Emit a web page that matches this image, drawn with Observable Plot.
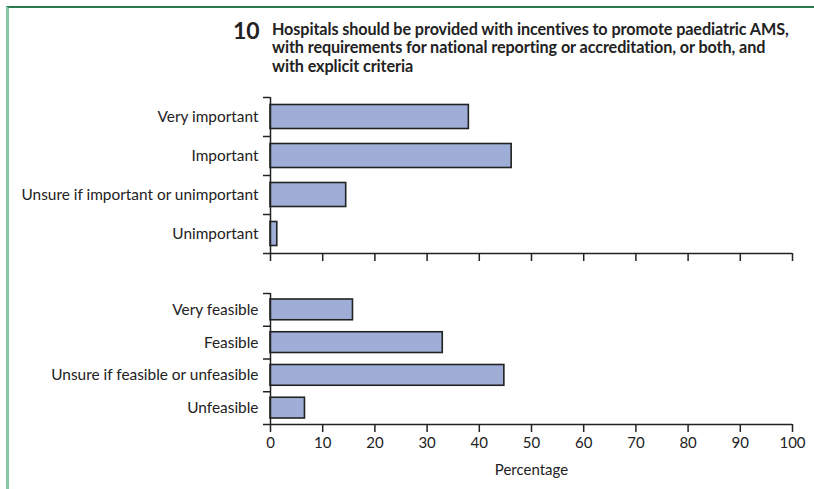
<!DOCTYPE html>
<html>
<head>
<meta charset="utf-8">
<script src="https://cdn.jsdelivr.net/npm/d3@7"></script>
<script src="https://cdn.jsdelivr.net/npm/@observablehq/plot@0.6"></script>
<style>
  html, body { margin: 0; padding: 0; background: #fff; }
  #chart { position: relative; width: 814px; height: 489px; overflow: hidden; background: #fff; font-family: Lato, "Open Sans", sans-serif; color: #222; }
  #frame { position: absolute; left: 6px; top: 6px; width: 808px; height: 483px; border-top: 2px solid #2b7a50; border-left: 3px solid #86c8a6; box-sizing: border-box; }
  #num { position: absolute; left: 233px; top: 18px; font-weight: 700; font-size: 23px; line-height: 24px; }
  #title { position: absolute; left: 272px; top: 20px; width: 540px; font-weight: 700; font-size: 16.2px; line-height: 18.3px; letter-spacing: -0.1px; }
  .panel { position: absolute; left: 0; }
</style>
</head>
<body>
<div id="chart">
  <div id="frame"></div>
  <div id="num"></div>
  <div id="title"></div>
</div>
<script>
// Survey statement and response shares (%)
const titleNumber = "10";
const titleLines = [
  "Hospitals should be provided with incentives to promote paediatric AMS,",
  "with requirements for national reporting or accreditation, or both, and",
  "with explicit criteria"
];

const importanceCategories = ["Very important", "Important", "Unsure if important or unimportant", "Unimportant"];
const importanceValues = [38.0, 46.2, 14.5, 1.3];

const feasibilityCategories = ["Very feasible", "Feasible", "Unsure if feasible or unfeasible", "Unfeasible"];
const feasibilityValues = [15.8, 33.0, 44.8, 6.6];

const xTicks = [0, 10, 20, 30, 40, 50, 60, 70, 80, 90, 100];
const xLabel = "Percentage";

document.getElementById("num").textContent = titleNumber;
document.getElementById("title").innerHTML = titleLines.join("<br>");

const ink = "#222";

// One block of horizontal bars: categories on a 0..n scale, boundary ticks on the left
function panel({categories, values, top, height, marginTop, marginBottom, inset, withLabels}) {
  const rows = categories.map((c, i) => ({c, v: values[i], i}));
  const n = categories.length;
  const plot = Plot.plot({
    width: 814,
    height,
    marginLeft: 270,
    marginRight: 22,
    marginTop,
    marginBottom,
    style: {fontFamily: "Lato, 'Open Sans', sans-serif", fontSize: "14px", color: ink, background: "transparent"},
    x: {domain: [0, 100], label: null},
    y: {domain: [0, n], reverse: true, label: null},
    marks: [
      Plot.rectX(rows, {
        x1: 0, x2: "v", y1: "i", y2: d => d.i + 1,
        insetTop: inset, insetBottom: inset,
        fill: "#9eaed6", stroke: "#222", strokeWidth: 1.6
      }),
      Plot.ruleX([0], {stroke: ink, strokeWidth: 1.5}),
      Plot.ruleY([n], {stroke: ink, strokeWidth: 1.5}),
      Plot.axisY(d3.range(n + 1), {tickSize: 7, tickFormat: () => "", stroke: ink, strokeWidth: 1.5, label: null}),
      Plot.axisY(rows.map(d => d.i + 0.5), {
        tickSize: 0, tickPadding: 12,
        tickFormat: t => categories[Math.floor(t)],
        label: null, fontSize: 15.4
      }),
      Plot.axisX(xTicks, {
        tickSize: 8, stroke: ink, strokeWidth: 1.5,
        tickFormat: withLabels ? (d => String(d)) : () => "",
        tickPadding: 5, fontSize: 15,
        label: withLabels ? xLabel : null,
        labelAnchor: "center", labelArrow: "none", labelOffset: 50
      })
    ]
  });
  plot.classList.add("panel");
  plot.style.top = top + "px";
  document.getElementById("chart").appendChild(plot);
}

panel({categories: importanceCategories, values: importanceValues,
       top: 0, height: 280, marginTop: 97, marginBottom: 27, inset: 7.5, withLabels: false});
panel({categories: feasibilityCategories, values: feasibilityValues,
       top: 270, height: 219, marginTop: 23, marginBottom: 65, inset: 6, withLabels: true});
</script>
</body>
</html>
